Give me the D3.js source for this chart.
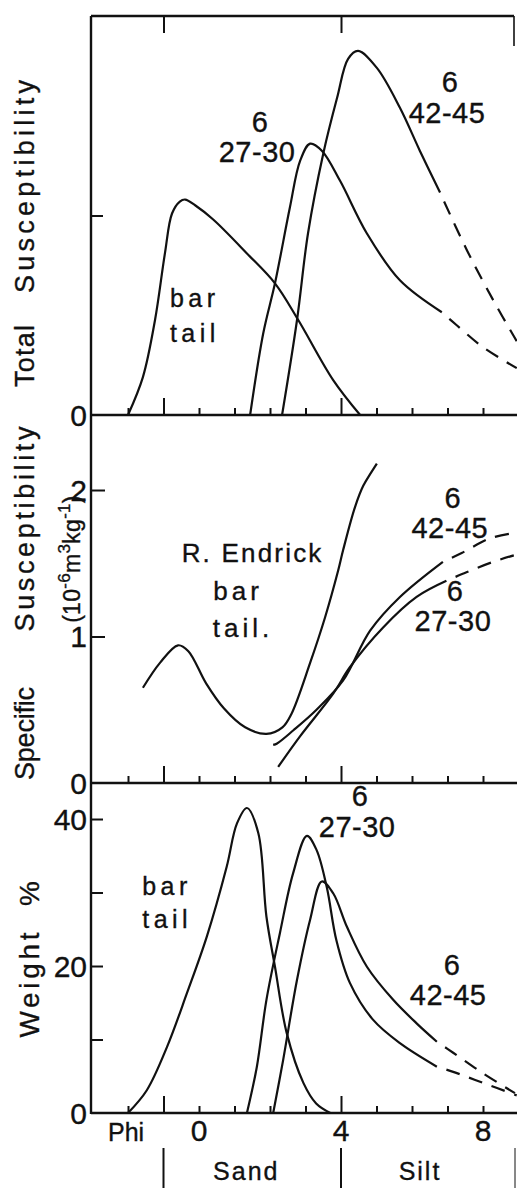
<!DOCTYPE html>
<html><head><meta charset="utf-8">
<script src="https://cdn.jsdelivr.net/npm/d3@7"></script>
<style>
body{margin:0;background:#fff}
text{font-family:"Liberation Sans",Arial,Helvetica,sans-serif;fill:#111;stroke:#111;stroke-width:0.35px}
</style>
</head><body>
<svg id="c" width="517" height="1188"></svg>
<script>
// ---------- data ----------
const phiTicks = [-2,-1,0,1,2,3,4,5,6,7,8];
const phiMajorTicks = [-1,4];
const phiTickLabels = [0,4,8];
const sizeClassNames = ["Sand","Silt"];
const sizeClassBounds = [-1,4,9];

const totTicks = [1];
const totTickLabels = [0];
const specTicks = [1,2];
const specTickLabels = [0,1,2];
const wtTicks = [10,20,30,40];
const wtTickLabels = [0,20,40];

// Total susceptibility (arbitrary units)
const totBarPhi = [-2.0,-1.58,-1.24,-0.96,-0.76,-0.54,-0.39,-0.1,0.4,1.35,2.14,2.8,3.78,4.54];
const totBarVal = [0,0.19,0.475,0.81,1.01,1.07,1.08,1.05,0.98,0.81,0.66,0.475,0.175,0];
const tot2730Phi = [1.44,1.81,2.14,2.56,2.85,3.13,3.46,3.97,4.73,5.66,6.84];
const tot2730Val = [0,0.41,0.66,1.04,1.275,1.36,1.325,1.175,0.91,0.675,0.515];
const tot2730DashPhi = [6.84,7.26,8.0,8.95];
const tot2730DashVal = [0.515,0.45,0.34,0.235];
const tot4245Phi = [2.34,2.76,3.07,3.5,3.89,4.2,4.48,5.01,5.66,6.22,6.79];
const tot4245Val = [0,0.475,0.91,1.31,1.59,1.785,1.825,1.74,1.54,1.325,1.115];
const tot4245DashPhi = [6.79,7.55,8.29,8.95];
const tot4245DashVal = [1.115,0.825,0.575,0.37];

// Specific susceptibility (10^-6 m^3 kg^-1)
const specBarPhi = [-1.58,-1.1,-0.59,-0.3,0.2,0.7,1.3,1.9,2.35,2.6,3.13,3.55,3.92,4.06,4.39,4.63,5.01];
const specBarVal = [0.65,0.82,0.94,0.9,0.68,0.51,0.38,0.335,0.38,0.47,0.82,1.13,1.45,1.59,1.88,2.03,2.18];
const spec4245Phi = [2.09,2.2,2.66,3.31,4.06,4.82,5.66,6.87];
const spec4245Val = [0.26,0.27,0.36,0.5,0.7,1.04,1.27,1.51];
const spec4245DashPhi = [6.87,7.4,8.2,8.95];
const spec4245DashVal = [1.51,1.57,1.67,1.71];
const spec2730Phi = [2.23,2.85,3.78,4.25,5.18,6.13,6.97];
const spec2730Val = [0.11,0.32,0.61,0.79,1.06,1.27,1.38];
const spec2730DashPhi = [6.97,7.55,8.29,8.95];
const spec2730DashVal = [1.38,1.44,1.51,1.56];

// Weight %
const wtBarPhi = [-2.0,-1.47,-0.9,-0.34,0.22,0.78,1.07,1.35,1.67,1.9,2.14,2.47,2.94,3.3,3.7];
const wtBarVal = [0,3.1,9.0,16.3,24,33.5,39.4,41.5,38.1,26.7,19.9,10.9,4.1,1.3,0];
const wt2730Phi = [1.35,1.63,1.9,2.28,2.65,3.04,3.31,3.6,3.87,4.25,4.9,5.66,6.7];
const wt2730Val = [0,6.3,15.4,24.5,32.6,37.7,35.8,30.7,23.5,17.7,12.7,9.5,6.3];
const wt2730DashPhi = [6.7,7.16,8.0,8.95];
const wt2730DashVal = [6.3,5.6,4.1,2.4];
const wt4245Phi = [2.09,2.37,2.76,3.13,3.46,3.78,4.17,4.73,5.47,6.13,6.7];
const wt4245Val = [0,7.2,18.1,26.3,31.5,29.9,25.3,19.9,15.4,12.2,9.7];
const wt4245DashPhi = [6.7,7.16,8.0,8.9];
const wt4245DashVal = [9.7,8.2,5.4,2.7];

// ---------- drawing ----------
const svg = d3.select("#c");
const INK = "#111";
const x = d3.scaleLinear().domain([-3,9]).range([92.5,518.5]);
const yTot = d3.scaleLinear().domain([0,2]).range([415,16]);
const ySpec = d3.scaleLinear().domain([0,2.512]).range([783,415]);
const yWt = d3.scaleLinear().domain([0,44.9]).range([1113,783]);
const LEFT = 91, RIGHT = 514;

// frame
const frame = svg.append("g").attr("stroke",INK).attr("stroke-width",2.4).attr("fill","none");
frame.append("line").attr("x1",LEFT).attr("x2",LEFT).attr("y1",yTot(2)).attr("y2",yWt(0)+1);
frame.append("line").attr("x1",LEFT).attr("x2",RIGHT).attr("y1",yTot(2)).attr("y2",yTot(2));
frame.append("line").attr("x1",RIGHT).attr("x2",RIGHT).attr("y1",yTot(2)).attr("y2",yTot(2)+30).attr("stroke-width",1.6);
[yTot(0), ySpec(0), yWt(0)].forEach(yy=>{
  frame.append("line").attr("x1",LEFT).attr("x2",517).attr("y1",yy).attr("y2",yy);
});

// x tick marks (inward, upward from each baseline)
function phiAxis(y0){
  const g = svg.append("g").attr("transform",`translate(0,${y0})`)
    .call(d3.axisTop(x).tickValues(phiTicks).tickSize(7).tickFormat(""));
  g.select(".domain").remove();
  g.selectAll(".tick line").attr("stroke",INK).attr("stroke-width",2)
    .filter(d=>phiMajorTicks.includes(d)).attr("y2",-17);
}
phiAxis(yTot(0)); phiAxis(ySpec(0)); phiAxis(yWt(0));
{
  const g = svg.append("g").attr("transform",`translate(0,${yTot(2)})`)
    .call(d3.axisBottom(x).tickValues(phiMajorTicks).tickSize(17).tickFormat(""));
  g.select(".domain").remove();
  g.selectAll(".tick line").attr("stroke",INK).attr("stroke-width",2);
}

// y tick marks (inward)
function yAxisMarks(scale, ticks, len){
  const g = svg.append("g").attr("transform",`translate(${LEFT},0)`)
    .call(d3.axisRight(scale).tickValues(ticks).tickSize(len).tickFormat(""));
  g.select(".domain").remove();
  g.selectAll(".tick line").attr("stroke",INK).attr("stroke-width",2);
}
yAxisMarks(yTot, totTicks, 12);
yAxisMarks(ySpec, specTicks, 14);
yAxisMarks(yWt, wtTicks, 12);

// y tick labels
function yLabels(scale, vals){
  svg.append("g").selectAll("text").data(vals).join("text")
    .attr("x",87).attr("y",d=>scale(d)).attr("dy","0.36em")
    .attr("text-anchor","end").attr("font-size",30).text(d=>d);
}
yLabels(yTot, totTickLabels);
yLabels(ySpec, specTickLabels);
yLabels(yWt, wtTickLabels);

// x tick labels
svg.append("g").selectAll("text").data(phiTickLabels).join("text")
  .attr("x",d=>x(d)).attr("y",1141).attr("text-anchor","middle").attr("font-size",30).text(d=>d);
svg.append("text").attr("x",108).attr("y",1141).attr("font-size",25).text("Phi");

// size classes
svg.append("g").selectAll("line").data(sizeClassBounds).join("line")
  .attr("x1",d=>Math.min(x(d),515)).attr("x2",d=>Math.min(x(d),515))
  .attr("y1",1148).attr("y2",1188).attr("stroke",INK).attr("stroke-width",d=>d===9?1:2);
svg.append("g").selectAll("text").data(sizeClassNames).join("text")
  .attr("x",(d,i)=>(x(sizeClassBounds[i])+Math.min(x(sizeClassBounds[i+1]),515))/2 + (i===0?-6:-8))
  .attr("y",1180).attr("text-anchor","middle").attr("font-size",25).attr("letter-spacing",2).text(d=>d);

// axis titles (rotated)
function vText(str, bx, cy, len, size){
  svg.append("text").attr("transform",`translate(${bx},${cy}) rotate(-90)`)
    .attr("text-anchor","middle").attr("font-size",size)
    .attr("textLength",len).attr("lengthAdjust","spacing").text(str);
}
vText("Total", 34, 356, 62, 27);
vText("Susceptibility", 34, 186.5, 213, 27);
vText("Specific", 34, 733.5, 93, 27);
vText("Susceptibility", 34, 529, 205, 27);
vText("Weight", 39, 985, 105, 28);
vText("%", 39, 893.5, 26, 28);
{
  const t = svg.append("text").attr("transform",`translate(80,559) rotate(-90)`)
    .attr("text-anchor","middle").attr("font-size",23).attr("letter-spacing",0.3);
  t.append("tspan").text("(10");
  t.append("tspan").attr("dy",-10).attr("font-size",17).text("-6");
  t.append("tspan").attr("dy",10).text("m");
  t.append("tspan").attr("dy",-10).attr("font-size",17).text("3");
  t.append("tspan").attr("dy",10).text("kg");
  t.append("tspan").attr("dy",-10).attr("font-size",17).text("-1");
  t.append("tspan").attr("dy",10).text(")");
}

// curves
function curve(yS, phis, vals, dashed){
  const line = d3.line().x(d=>x(d[0])).y(d=>yS(d[1])).curve(d3.curveCatmullRom.alpha(0.5));
  const p = svg.append("path").datum(d3.zip(phis, vals)).attr("d",line)
    .attr("fill","none").attr("stroke",INK).attr("stroke-width",2.2)
    .attr("stroke-linejoin","round").attr("stroke-linecap","butt");
  if(dashed) p.attr("stroke-dasharray","14 10").attr("stroke-dashoffset",-10);
}
curve(yTot, totBarPhi, totBarVal);
curve(yTot, tot2730Phi, tot2730Val);
curve(yTot, tot2730DashPhi, tot2730DashVal, true);
curve(yTot, tot4245Phi, tot4245Val);
curve(yTot, tot4245DashPhi, tot4245DashVal, true);

curve(ySpec, specBarPhi, specBarVal);
curve(ySpec, spec4245Phi, spec4245Val);
curve(ySpec, spec4245DashPhi, spec4245DashVal, true);
curve(ySpec, spec2730Phi, spec2730Val);
curve(ySpec, spec2730DashPhi, spec2730DashVal, true);

curve(yWt, wtBarPhi, wtBarVal);
curve(yWt, wt2730Phi, wt2730Val);
curve(yWt, wt2730DashPhi, wt2730DashVal, true);
curve(yWt, wt4245Phi, wt4245Val);
curve(yWt, wt4245DashPhi, wt4245DashVal, true);

// annotations (placed in data coordinates; first line baseline at (phi, v))
function label(yS, phi, v, lines, opts={}){
  const t = svg.append("text").attr("text-anchor",opts.anchor||"middle")
    .attr("font-size",opts.size||29).attr("letter-spacing",opts.ls||0);
  const gap = opts.gap || 0;
  lines.forEach((s,i)=>{
    t.append("tspan").attr("x",x(phi) + (opts.dx && opts.dx[i] || 0))
      .attr("y",yS(v) + i*gap).text(s);
  });
}
label(yTot, -0.82, 0.54, ["bar","tail"], {anchor:"start", size:25, ls:4.5, gap:35});
label(yTot, 1.72, 1.42, ["6","27-30"], {gap:30, dx:[0,-3], ls:0.5});
label(yTot, 7.07, 1.62, ["6","42-45"], {gap:31, dx:[0,-3], ls:0.5});

label(ySpec, 1.51, 1.506, ["R. Endrick"], {size:26, ls:2.2});
label(ySpec, 1.1, 1.247, ["bar","tail."], {size:26, ls:4, gap:37, dx:[0,5]});
label(ySpec, 7.15, 1.875, ["6","42-45"], {gap:30, dx:[0,-3], ls:0.5});
label(ySpec, 7.21, 1.24, ["6","27-30"], {gap:30, dx:[0,-2], ls:0.5});

label(yWt, 4.54, 41.8, ["6","27-30"], {gap:31, dx:[0,-3], ls:0.5});
label(yWt, -1.6, 29.7, ["bar","tail"], {anchor:"start", size:25, ls:4.5, gap:33});
label(yWt, 7.13, 18.8, ["6","42-45"], {gap:30, dx:[0,-4], ls:0.5});
</script>
</body></html>
